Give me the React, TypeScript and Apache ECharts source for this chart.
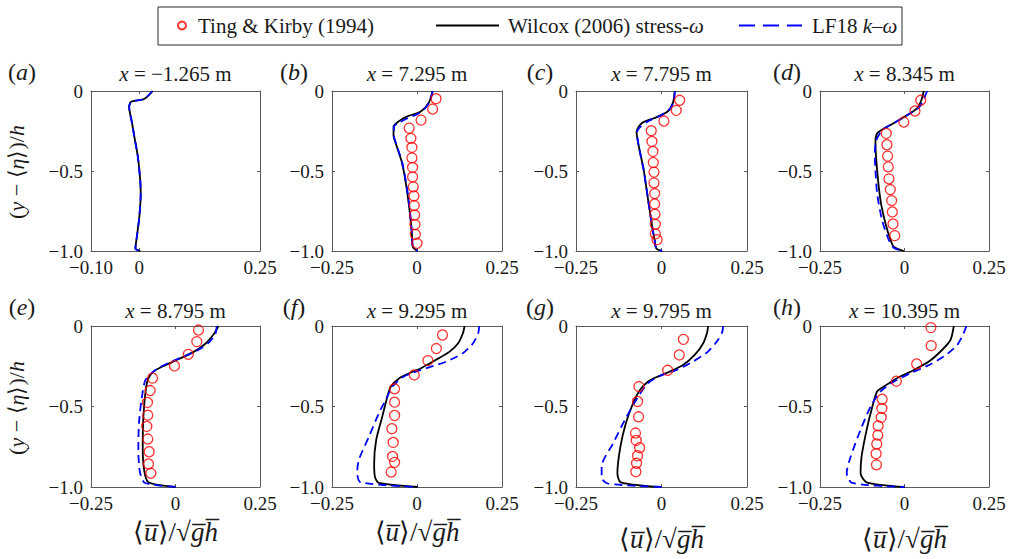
import React, { useEffect, useRef } from 'react';
import * as echarts from 'echarts';

const FONT = '"Liberation Serif", "Times New Roman", serif';

const panelLetters = ['a', 'b', 'c', 'd', 'e', 'f', 'g', 'h'];
const stations = ['−1.265', '7.295', '7.795', '8.345', '8.795', '9.295', '9.795', '10.395'];
const xTicksA = [-0.1, 0, 0.25];
const xTickLabelsA = ['−0.10', '0', '0.25'];
const xTicks = [-0.25, 0, 0.25];
const xTickLabels = ['−0.25', '0', '0.25'];
const yTicks = [-1, -0.5, 0];
const yTickLabels = ['−1.0', '−0.5', '0'];

const seriesNames = ['Ting & Kirby (1994)', 'Wilcox (2006) stress-ω', 'LF18 k–ω'];

// Panel (a)
const wilcoxA_y = [0, -0.05, -0.067, -0.1, -0.2, -0.29, -0.41, -0.56, -0.64, -0.79, -0.91, -0.985, -1.0];
const wilcoxA_u = [0.028, 0.01, -0.017, -0.021, -0.015, -0.01, -0.003, 0.002, 0.003, 0.0, -0.005, -0.008, 0.002];
const lf18A_y = [0, -0.05, -0.067, -0.1, -0.2, -0.29, -0.41, -0.56, -0.64, -0.79, -0.91, -0.985, -1.0];
const lf18A_u = [0.027, 0.01, -0.016, -0.021, -0.015, -0.01, -0.003, 0.002, 0.003, 0.0, -0.005, -0.008, 0.002];
const tkA_u: number[] = [];
const tkA_y: number[] = [];

// Panel (b)
const wilcoxB_y = [0, -0.077, -0.13, -0.16, -0.19, -0.223, -0.276, -0.35, -0.45, -0.6, -0.745, -0.89, -0.975, -1.0];
const wilcoxB_u = [0.046, 0.034, 0.01, -0.03, -0.054, -0.069, -0.069, -0.059, -0.044, -0.031, -0.022, -0.015, -0.012, 0.002];
const lf18B_y = [0, -0.05, -0.1, -0.14, -0.17, -0.2, -0.223, -0.276, -0.35, -0.45, -0.6, -0.745, -0.89, -0.975, -1.0];
const lf18B_u = [0.046, 0.04, 0.027, 0.005, -0.028, -0.055, -0.068, -0.068, -0.058, -0.043, -0.03, -0.021, -0.015, -0.012, 0.002];
const tkB_u = [0.056, 0.046, 0.012, -0.023, -0.018, -0.015, -0.015, -0.013, -0.013, -0.011, -0.009, -0.008, -0.007, -0.006, -0.005, 0.0];
const tkB_y = [-0.048, -0.113, -0.182, -0.232, -0.296, -0.353, -0.418, -0.478, -0.537, -0.599, -0.656, -0.716, -0.775, -0.835, -0.896, -0.952];

// Panel (c)
const wilcoxC_y = [0, -0.077, -0.13, -0.17, -0.2, -0.255, -0.35, -0.495, -0.683, -0.85, -0.933, -0.985, -1.0];
const wilcoxC_u = [0.039, 0.033, 0.017, -0.022, -0.057, -0.073, -0.066, -0.052, -0.039, -0.027, -0.02, -0.015, 0.002];
const lf18C_y = [0, -0.06, -0.11, -0.15, -0.19, -0.23, -0.26, -0.35, -0.495, -0.683, -0.85, -0.933, -0.985, -1.0];
const lf18C_u = [0.039, 0.036, 0.025, 0.0, -0.04, -0.065, -0.072, -0.066, -0.052, -0.039, -0.027, -0.02, -0.015, 0.002];
const tkC_u = [0.053, 0.043, 0.007, -0.03, -0.028, -0.025, -0.024, -0.022, -0.022, -0.02, -0.02, -0.019, -0.018, -0.018, -0.013];
const tkC_y = [-0.058, -0.121, -0.188, -0.248, -0.315, -0.378, -0.447, -0.507, -0.574, -0.641, -0.706, -0.77, -0.833, -0.893, -0.929];

// Panel (d)
const wilcoxD_y = [0, -0.056, -0.109, -0.15, -0.2, -0.234, -0.265, -0.317, -0.495, -0.683, -0.83, -0.933, -0.975, -1.0];
const wilcoxD_u = [0.057, 0.05, 0.037, 0.008, -0.031, -0.061, -0.081, -0.086, -0.081, -0.071, -0.056, -0.041, -0.031, -0.002];
const lf18D_y = [0, -0.025, -0.098, -0.146, -0.2, -0.244, -0.307, -0.39, -0.495, -0.64, -0.81, -0.933, -0.981, -1.0];
const lf18D_u = [0.067, 0.062, 0.045, 0.013, -0.031, -0.066, -0.083, -0.088, -0.086, -0.081, -0.066, -0.046, -0.031, 0.0];
const tkD_u = [0.048, 0.031, -0.002, -0.054, -0.052, -0.05, -0.048, -0.046, -0.042, -0.038, -0.036, -0.034, -0.029];
const tkD_y = [-0.058, -0.125, -0.194, -0.265, -0.336, -0.407, -0.474, -0.549, -0.616, -0.685, -0.756, -0.831, -0.904];

// Panel (e)
const wilcoxE_y = [0, -0.045, -0.107, -0.159, -0.21, -0.248, -0.283, -0.324, -0.397, -0.562, -0.748, -0.893, -0.971, -1.0];
const wilcoxE_u = [0.127, 0.115, 0.09, 0.055, 0.005, -0.035, -0.065, -0.08, -0.088, -0.095, -0.097, -0.093, -0.08, 0.0];
const lf18E_y = [0, -0.05, -0.1, -0.14, -0.18, -0.215, -0.26, -0.3, -0.34, -0.45, -0.6, -0.77, -0.91, -0.975, -1.0];
const lf18E_u = [0.122, 0.118, 0.1, 0.075, 0.035, -0.005, -0.05, -0.075, -0.09, -0.1, -0.108, -0.11, -0.105, -0.09, 0.002];
const tkE_u = [0.068, 0.063, 0.038, -0.003, -0.068, -0.075, -0.083, -0.082, -0.085, -0.082, -0.078, -0.08, -0.073];
const tkE_y = [-0.025, -0.097, -0.176, -0.248, -0.324, -0.401, -0.475, -0.554, -0.624, -0.702, -0.781, -0.857, -0.915];

// Panel (f)
const wilcoxF_y = [0, -0.045, -0.107, -0.159, -0.21, -0.262, -0.289, -0.324, -0.376, -0.438, -0.562, -0.707, -0.851, -0.934, -0.975, -1.0];
const wilcoxF_u = [0.14, 0.135, 0.121, 0.096, 0.056, 0.012, -0.018, -0.052, -0.077, -0.087, -0.102, -0.12, -0.126, -0.124, -0.112, 0.002];
const lf18F_y = [0, -0.045, -0.107, -0.169, -0.221, -0.256, -0.283, -0.318, -0.376, -0.459, -0.541, -0.686, -0.831, -0.913, -0.971, -1.0];
const lf18F_u = [0.183, 0.18, 0.165, 0.135, 0.086, 0.037, -0.003, -0.042, -0.072, -0.092, -0.112, -0.141, -0.171, -0.176, -0.166, 0.002];
const tkF_u = [0.075, 0.057, 0.032, -0.008, -0.066, -0.066, -0.066, -0.074, -0.07, -0.072, -0.066, -0.076];
const tkF_y = [-0.056, -0.14, -0.215, -0.304, -0.39, -0.473, -0.556, -0.638, -0.723, -0.81, -0.847, -0.907];

// Panel (g)
const wilcoxG_y = [0, -0.035, -0.107, -0.18, -0.242, -0.283, -0.318, -0.345, -0.397, -0.479, -0.603, -0.748, -0.913, -0.971, -1.0];
const wilcoxG_u = [0.136, 0.134, 0.122, 0.097, 0.063, 0.024, -0.015, -0.039, -0.063, -0.083, -0.104, -0.12, -0.129, -0.119, 0.0];
const lf18G_y = [0, -0.035, -0.087, -0.159, -0.221, -0.273, -0.31, -0.355, -0.438, -0.583, -0.727, -0.872, -0.944, -0.979, -1.0];
const lf18G_u = [0.18, 0.178, 0.165, 0.136, 0.092, 0.044, -0.005, -0.039, -0.068, -0.107, -0.141, -0.175, -0.175, -0.156, 0.0];
const tkG_u = [0.064, 0.052, 0.018, -0.066, -0.07, -0.067, -0.076, -0.074, -0.064, -0.07, -0.073, -0.075];
const tkG_y = [-0.083, -0.18, -0.275, -0.376, -0.469, -0.564, -0.665, -0.711, -0.756, -0.806, -0.853, -0.905];

// Panel (h)
const wilcoxH_y = [0, -0.087, -0.149, -0.221, -0.273, -0.324, -0.376, -0.407, -0.5, -0.645, -0.81, -0.913, -0.971, -1.0];
const wilcoxH_u = [0.146, 0.136, 0.111, 0.072, 0.028, -0.022, -0.061, -0.081, -0.095, -0.112, -0.127, -0.13, -0.112, 0.0];
const lf18H_y = [0, -0.045, -0.118, -0.19, -0.248, -0.293, -0.345, -0.407, -0.5, -0.645, -0.81, -0.913, -0.975, -1.0];
const lf18H_u = [0.183, 0.175, 0.156, 0.116, 0.067, 0.018, -0.031, -0.071, -0.1, -0.13, -0.159, -0.171, -0.155, 0.0];
const tkH_u = [0.078, 0.079, 0.036, -0.024, -0.066, -0.067, -0.069, -0.078, -0.079, -0.082, -0.084, -0.083];
const tkH_y = [-0.01, -0.122, -0.236, -0.343, -0.455, -0.512, -0.568, -0.62, -0.678, -0.733, -0.793, -0.862];

const wilcoxU = [wilcoxA_u, wilcoxB_u, wilcoxC_u, wilcoxD_u, wilcoxE_u, wilcoxF_u, wilcoxG_u, wilcoxH_u];
const wilcoxY = [wilcoxA_y, wilcoxB_y, wilcoxC_y, wilcoxD_y, wilcoxE_y, wilcoxF_y, wilcoxG_y, wilcoxH_y];
const lf18U = [lf18A_u, lf18B_u, lf18C_u, lf18D_u, lf18E_u, lf18F_u, lf18G_u, lf18H_u];
const lf18Y = [lf18A_y, lf18B_y, lf18C_y, lf18D_y, lf18E_y, lf18F_y, lf18G_y, lf18H_y];
const tkU = [tkA_u, tkB_u, tkC_u, tkD_u, tkE_u, tkF_u, tkG_u, tkH_u];
const tkY = [tkA_y, tkB_y, tkC_y, tkD_y, tkE_y, tkF_y, tkG_y, tkH_y];

// layout (pixels)
const gridLefts = [91, 332, 576, 820];
const gridWidths = [169, 170, 171, 169];
const gridTops = [91, 326];
const gridHeights = [160, 161];
const labelXs = [22, 294, 540, 787];
const xNameGaps = [31, 31, 38, 38];
const yNameCenters = [172, 408];

const AXIS_COLOR = '#5a5a5a';
const TEXT_COLOR = '#1a1a1a';

const pairs = (xs: number[], ys: number[]) => xs.map((x, k) => [x, ys[k]]);
const fmt = (ticks: number[], labels: string[]) => (v: number) => {
  const i = ticks.findIndex((t) => Math.abs(t - v) < 1e-9);
  return i >= 0 ? labels[i] : '';
};

function buildOption() {
  const grid: any[] = [];
  const xAxis: any[] = [];
  const yAxis: any[] = [];
  const series: any[] = [];
  const graphic: any[] = [];

  graphic.push({
    type: 'rect',
    shape: { x: 158, y: 7, width: 744, height: 38 },
    style: { fill: '#fff', stroke: '#2b2b2b', lineWidth: 1 },
    z: -10,
  });

  for (let r = 0; r < 2; r++) {
    graphic.push({
      type: 'text',
      x: 16,
      y: yNameCenters[r],
      rotation: Math.PI / 2,
      style: {
        text: '({i|y} − ⟨{i|η}⟩)/{i|h}',
        align: 'center',
        verticalAlign: 'middle',
        textAlign: 'center',
        textVerticalAlign: 'middle',
        font: '22px ' + FONT,
        fill: TEXT_COLOR,
        rich: { i: { fontStyle: 'italic', fontSize: 22, fontFamily: FONT, fill: TEXT_COLOR } },
      },
    });
  }

  for (let i = 0; i < 8; i++) {
    const row = i < 4 ? 0 : 1;
    const col = i % 4;
    const left = gridLefts[col];
    const width = gridWidths[col];
    const top = gridTops[row];
    const height = gridHeights[row];
    grid.push({ left, top, width, height, containLabel: false });

    const ticks = i === 0 ? xTicksA : xTicks;
    const labels = i === 0 ? xTickLabelsA : xTickLabels;
    const axisLine = { show: true, onZero: false, lineStyle: { color: AXIS_COLOR, width: 1 } };
    const tickStyle = { color: AXIS_COLOR, width: 1 };

    xAxis.push({
      type: 'value',
      gridIndex: i,
      position: 'bottom',
      min: ticks[0],
      max: ticks[ticks.length - 1],
      axisLine,
      axisTick: { show: true, inside: true, length: 3, customValues: ticks, lineStyle: tickStyle },
      axisLabel: {
        show: true,
        customValues: ticks,
        formatter: fmt(ticks, labels),
        margin: 9,
        fontSize: 19,
        lineHeight: 15,
        fontFamily: FONT,
        color: TEXT_COLOR,
      },
      splitLine: { show: false },
      name: row === 1 ? '⟨{i|u̅}⟩/√{i|g̅h̅}' : '',
      nameLocation: 'middle',
      nameGap: xNameGaps[col],
      nameTextStyle: {
        fontSize: 27,
        fontFamily: FONT,
        color: TEXT_COLOR,
        rich: { i: { fontStyle: 'italic', fontSize: 27, fontFamily: FONT, color: TEXT_COLOR } },
      },
    });
    xAxis.push({
      type: 'value',
      gridIndex: i,
      position: 'top',
      min: ticks[0],
      max: ticks[ticks.length - 1],
      axisLine,
      axisTick: { show: true, inside: true, length: 3, customValues: ticks, lineStyle: tickStyle },
      axisLabel: { show: false },
      splitLine: { show: false },
    });
    yAxis.push({
      type: 'value',
      gridIndex: i,
      position: 'left',
      min: -1,
      max: 0,
      axisLine,
      axisTick: { show: true, inside: true, length: 3, customValues: yTicks, lineStyle: tickStyle },
      axisLabel: {
        show: true,
        customValues: yTicks,
        formatter: fmt(yTicks, yTickLabels),
        margin: 8,
        fontSize: 19,
        lineHeight: 15,
        fontFamily: FONT,
        color: TEXT_COLOR,
      },
      splitLine: { show: false },
    });
    yAxis.push({
      type: 'value',
      gridIndex: i,
      position: 'right',
      min: -1,
      max: 0,
      axisLine,
      axisTick: { show: true, inside: true, length: 3, customValues: yTicks, lineStyle: tickStyle },
      axisLabel: { show: false },
      splitLine: { show: false },
    });

    series.push({
      name: seriesNames[1],
      type: 'line',
      xAxisIndex: 2 * i,
      yAxisIndex: 2 * i,
      data: pairs(wilcoxU[i], wilcoxY[i]),
      symbol: 'none',
      showSymbol: false,
      smooth: 0.25,
      itemStyle: { color: '#000000' },
      lineStyle: { color: '#000000', width: 1.8 },
      z: 2,
    });
    series.push({
      name: seriesNames[2],
      type: 'line',
      xAxisIndex: 2 * i,
      yAxisIndex: 2 * i,
      data: pairs(lf18U[i], lf18Y[i]),
      symbol: 'none',
      showSymbol: false,
      smooth: 0.25,
      itemStyle: { color: '#0000ff' },
      lineStyle: { color: '#0000ff', width: 1.8, type: [8, 5] },
      z: 3,
    });
    series.push({
      name: seriesNames[0],
      type: 'scatter',
      xAxisIndex: 2 * i,
      yAxisIndex: 2 * i,
      data: pairs(tkU[i], tkY[i]),
      symbol: 'circle',
      symbolSize: 10,
      itemStyle: { color: 'rgba(255,255,255,0)', borderColor: '#ff0000', borderWidth: 1.3 },
      z: 4,
    });

    // title
    graphic.push({
      type: 'text',
      x: left + width / 2,
      y: row === 0 ? 74 : 311,
      style: {
        text: '{i|x} = ' + stations[i] + ' m',
        align: 'center',
        verticalAlign: 'middle',
        textAlign: 'center',
        textVerticalAlign: 'middle',
        font: '21px ' + FONT,
        fill: TEXT_COLOR,
        rich: { i: { fontStyle: 'italic', fontSize: 21, fontFamily: FONT, fill: TEXT_COLOR } },
      },
    });
    // panel letter
    graphic.push({
      type: 'text',
      x: labelXs[col],
      y: row === 0 ? 72 : 307,
      style: {
        text: '({i|' + panelLetters[i] + '})',
        align: 'center',
        verticalAlign: 'middle',
        textAlign: 'center',
        textVerticalAlign: 'middle',
        font: '24px ' + FONT,
        fill: TEXT_COLOR,
        rich: { i: { fontStyle: 'italic', fontSize: 24, fontFamily: FONT, fill: TEXT_COLOR } },
      },
    });
  }

  const legendText = {
    fontSize: 21,
    fontFamily: FONT,
    color: TEXT_COLOR,
    rich: { i: { fontStyle: 'italic', fontSize: 21, fontFamily: FONT, color: TEXT_COLOR } },
  };
  const legendFormatter = (name: string) => {
    if (name === seriesNames[1]) return 'Wilcox (2006) stress-{i|ω}';
    if (name === seriesNames[2]) return 'LF18 {i|k}–{i|ω}';
    return name;
  };

  const legend = [
    {
      data: [{ name: seriesNames[0], icon: 'circle' }],
      left: 172,
      top: 10,
      itemWidth: 8,
      itemHeight: 9,
      selectedMode: false,
      formatter: legendFormatter,
      textStyle: { ...legendText, padding: [0, 0, 0, 7] },
    },
    {
      data: [seriesNames[1]],
      left: 430,
      top: 10,
      itemWidth: 63,
      itemHeight: 14,
      selectedMode: false,
      formatter: legendFormatter,
      itemStyle: { opacity: 0 },
      lineStyle: { color: '#000000', width: 2 },
      textStyle: { ...legendText, padding: [0, 0, 0, 4] },
    },
    {
      data: [seriesNames[2]],
      left: 733,
      top: 10,
      itemWidth: 63,
      itemHeight: 14,
      selectedMode: false,
      formatter: legendFormatter,
      itemStyle: { opacity: 0 },
      lineStyle: { color: '#0000ff', width: 2, type: [16, 8] },
      textStyle: { ...legendText, padding: [0, 0, 0, 5] },
    },
  ];

  return {
    animation: false,
    backgroundColor: '#ffffff',
    grid,
    xAxis,
    yAxis,
    series,
    legend,
    graphic,
  };
}

export default function App() {
  const ref = useRef<HTMLDivElement>(null);
  useEffect(() => {
    if (!ref.current) return;
    const chart = echarts.init(ref.current, undefined, { renderer: 'svg' });
    chart.setOption(buildOption() as any);
    return () => chart.dispose();
  }, []);
  return (
    <div
      ref={ref}
      style={{ position: 'fixed', left: 0, top: 0, width: 1010, height: 559, background: '#fff' }}
    />
  );
}
